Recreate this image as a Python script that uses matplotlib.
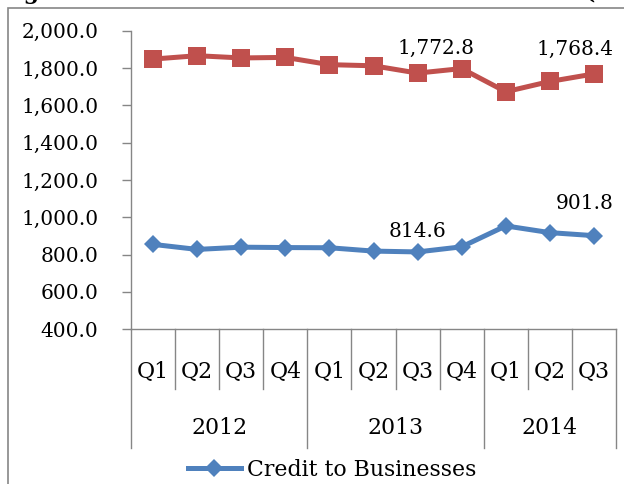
import numpy as np
import matplotlib
matplotlib.use("Agg")
import matplotlib.pyplot as plt
from matplotlib.patches import Rectangle

# Chart data
quarters = ["Q1", "Q2", "Q3", "Q4", "Q1", "Q2", "Q3", "Q4", "Q1", "Q2", "Q3"]
years = ["2012", "2013", "2014"]
quartersPerYear = [4, 4, 3]
households = [1848, 1866, 1854, 1857, 1818, 1812, 1772.8, 1797, 1673, 1728, 1768.4]
businesses = [855, 828, 840, 838, 837, 819, 814.6, 842, 954, 918, 901.8]
labelIdx = [6, 10]

title = "Figure 4: Credit to Businesses and Households (\u20a6' Billion)"
legendLabel = "Credit to Businesses"

# Style
plt.rcParams["font.family"] = ["DejaVu Serif"]
fs = 14.5      # numbers
fsText = 15.8  # words / category labels
red = "#C0504D"
blue = "#4F81BD"
grey = "#868686"

W, H = 624, 484
fig = plt.figure(figsize=(W / 100, H / 100), dpi=100)
ax = fig.add_axes([131 / W, 1 - 329.3 / H, 485 / W, 298.6 / H])

x = np.arange(len(quarters))
ax.plot(x, households, color=red, lw=3.6, marker="s", ms=13.5,
        markeredgewidth=0, solid_joinstyle="round", zorder=3)
ax.plot(x, businesses, color=blue, lw=3.6, marker="D", ms=9.5,
        markeredgewidth=0, solid_joinstyle="round", zorder=3,
        label=legendLabel)

# data labels
hhOffsets = [(13, 18), (-14, 18)]
buOffsets = [(0, 15), (-7, 23)]
for i, off in zip(labelIdx, hhOffsets):
    ax.annotate("{:,.1f}".format(households[i]), (x[i], households[i]),
                xytext=off, textcoords="offset points", ha="center",
                va="center", fontsize=fs)
for i, off in zip(labelIdx, buOffsets):
    ax.annotate("{:,.1f}".format(businesses[i]), (x[i], businesses[i]),
                xytext=off, textcoords="offset points", ha="center",
                va="center", fontsize=fs)

ax.set_xlim(-0.5, len(quarters) - 0.5)
ax.set_ylim(400, 2000)
ax.set_yticks(np.arange(400, 2001, 200))
ax.yaxis.set_major_formatter(matplotlib.ticker.FuncFormatter(lambda v, p: "{:,.1f}".format(v)))
ax.tick_params(axis="y", length=6.5, width=1, color=grey, pad=17, labelsize=fs)
ax.set_xticks([])
for s in ["top", "right"]:
    ax.spines[s].set_visible(False)
for s in ["left", "bottom"]:
    ax.spines[s].set_color(grey)
    ax.spines[s].set_linewidth(1)

# multi-level category axis
tr = ax.get_xaxis_transform()
qBottom, yBottom = -0.201, -0.398
bounds = np.cumsum([0] + quartersPerYear) - 0.5
for b in np.arange(-0.5, len(quarters), 1.0):
    low = yBottom if np.isclose(bounds, b).any() else qBottom
    ax.plot([b, b], [0, low], color=grey, lw=1, transform=tr, clip_on=False)
for i, q in enumerate(quarters):
    ax.text(i, -0.144, q, transform=tr, ha="center", va="center", fontsize=fsText)
for j, yr in enumerate(years):
    ax.text((bounds[j] + bounds[j + 1]) / 2, -0.332, yr, transform=tr,
            ha="center", va="center", fontsize=fsText)

ax.legend(loc="center left", bbox_to_anchor=(188 / W, 1 - 470 / H),
          bbox_transform=fig.transFigure, frameon=False, fontsize=fsText,
          handlelength=2.4, handletextpad=0.3, borderpad=0, borderaxespad=0)

# chart frame, cropped at right and bottom
fig.patches.append(Rectangle((8 / W, -0.1), 1.2, 1.1 - 8.5 / H, transform=fig.transFigure,
                             fill=False, edgecolor=grey, lw=1.2))
fig.text(0 / W, 1 + 1 / H, title, ha="left", va="baseline", fontsize=fsText,
         fontweight="bold")

plt.savefig("out.png", dpi=100)
